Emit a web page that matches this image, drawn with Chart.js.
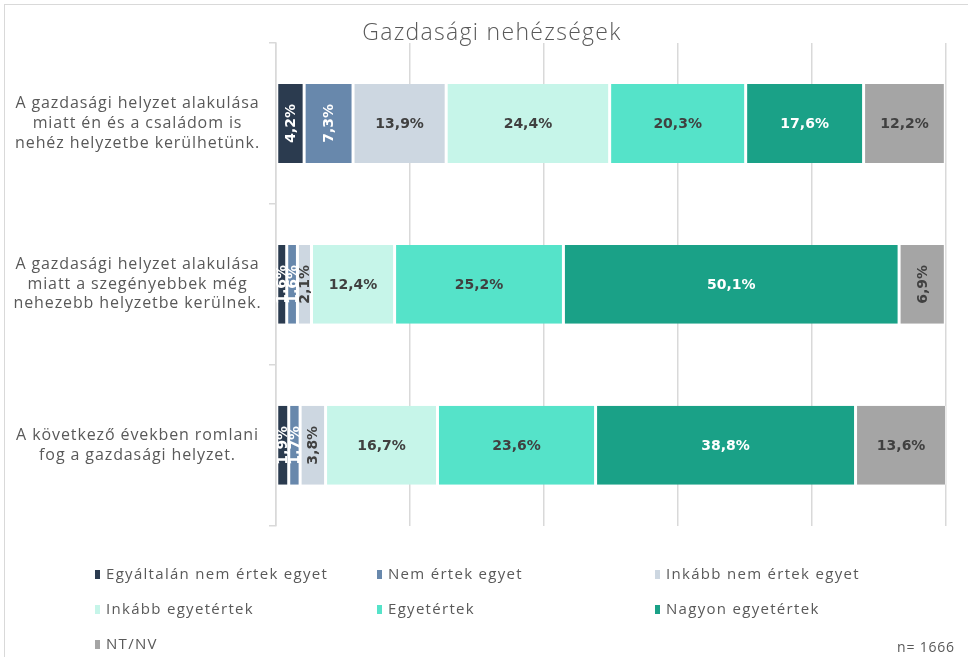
<!DOCTYPE html>
<html><head><meta charset="utf-8">
<script src="https://cdn.jsdelivr.net/npm/chart.js@4"></script>
<style>
html,body{margin:0;padding:0;background:#fff;width:968px;height:657px;overflow:hidden;font-family:"Open Sans",sans-serif;}
#frame{position:absolute;left:4px;top:4px;width:1000px;height:700px;border:1px solid #d9d9d9;box-sizing:border-box;}
#wrap{position:absolute;left:0;top:0;width:968px;height:575px;}
#title{position:absolute;left:292px;width:400px;top:15px;text-align:center;font-size:23px;font-weight:300;letter-spacing:1.3px;color:#595959;line-height:32px;}
#legend{position:absolute;left:0;top:0;width:968px;height:657px;pointer-events:none;}
.li{position:absolute;font-size:15px;color:#595959;white-space:nowrap;line-height:20px;letter-spacing:1.3px;}
.li span.m{display:inline-block;width:5px;height:9px;margin-right:6px;vertical-align:0px;}
#n{position:absolute;left:897px;top:637px;font-size:14px;color:#595959;letter-spacing:0.8px;}
</style></head>
<body>
<div id="frame"></div>
<div id="wrap"><canvas id="c" width="968" height="575"></canvas></div>
<div id="title">Gazdasági nehézségek</div>
<div id="legend"></div>
<div id="n">n= 1666</div>
<script>
const categories = [
  ["A gazdasági helyzet alakulása","miatt én és a családom is","nehéz helyzetbe kerülhetünk."],
  ["A gazdasági helyzet alakulása","miatt a szegényebbek még","nehezebb helyzetbe kerülnek."],
  ["A következő években romlani","fog a gazdasági helyzet."]
];
const seriesNames = ["Egyáltalán nem értek egyet","Nem értek egyet","Inkább nem értek egyet","Inkább egyetértek","Egyetértek","Nagyon egyetértek","NT/NV"];
const egyaltalanNem = [4.2, 1.6, 1.9];
const nemErtek = [7.3, 1.6, 1.7];
const inkabbNem = [13.9, 2.1, 3.8];
const inkabbEgyet = [24.4, 12.4, 16.7];
const egyetert = [20.3, 25.2, 23.6];
const nagyonEgyet = [17.6, 50.1, 38.8];
const ntnv = [12.2, 6.9, 13.6];
const xTicks = [0, 20, 40, 60, 80, 100];

const seriesValues = [egyaltalanNem, nemErtek, inkabbNem, inkabbEgyet, egyetert, nagyonEgyet, ntnv];
const colors = ["#2B3B4F","#6888AC","#CDD7E1","#C6F5E9","#55E3C9","#1AA187","#A5A5A5"];
const labelColors = ["#ffffff","#ffffff","#404040","#404040","#404040","#ffffff","#404040"];

const spacingPlugin = {
  id:'tickSpacing',
  beforeDraw(chart){ chart.ctx.letterSpacing = '0.9px'; },
  beforeDatasetsDraw(chart){ chart.ctx.letterSpacing = '0px'; }
};

const labelPlugin = {
  id:'segLabels',
  afterDatasetsDraw(chart){
    const ctx = chart.ctx;
    chart.data.datasets.forEach((ds, di) => {
      const meta = chart.getDatasetMeta(di);
      meta.data.forEach((el, i) => {
        const v = ds.data[i];
        const txt = v.toFixed(1).replace('.', ',') + '%';
        const cx = (el.x + el.base) / 2;
        const cy = el.y;
        ctx.save();
        ctx.letterSpacing = '0px';
        ctx.font = 'bold 14px "DejaVu Sans", sans-serif';
        ctx.fillStyle = labelColors[di];
        ctx.textAlign = 'center';
        ctx.textBaseline = 'middle';
        ctx.translate(cx, cy);
        if (v < 10) ctx.rotate(-Math.PI/2);
        ctx.fillText(txt, 0, 1);
        ctx.restore();
      });
    });
  }
};

const chart = new Chart(document.getElementById('c'), {
  type:'bar',
  data:{
    labels: categories,
    datasets: seriesNames.map((n, i) => ({
      label:n, data: seriesValues[i], backgroundColor: colors[i],
      borderColor:'#ffffff', borderWidth:{left:1.5,right:1.5,top:0,bottom:0}, borderSkipped:false,
      barPercentage:0.49, categoryPercentage:1
    }))
  },
  options:{
    indexAxis:'y',
    responsive:false,
    animation:false,
    layout:{padding:{left:8,right:22,top:43,bottom:11}},
    plugins:{
      legend:{display:false},
      tooltip:{enabled:false},
      title:{display:false}
    },
    scales:{
      x:{stacked:true,min:0,max:100,
        afterBuildTicks(s){ s.ticks = xTicks.map(v => ({value:v})); },
        ticks:{display:false},
        grid:{color:'#d9d9d9',lineWidth:1.5,drawTicks:false},
        border:{display:false}},
      y:{stacked:true,
        afterFit(s){ s.width = 268; },
        ticks:{color:'#595959',font:{size:16,family:'"Open Sans", sans-serif',lineHeight:1.22},crossAlign:'center',padding:20},
        grid:{offset:true,drawOnChartArea:false,tickLength:7,color:'#d9d9d9',lineWidth:1.5},
        border:{display:true,color:'#d9d9d9',width:1.5}}
    }
  },
  plugins:[spacingPlugin, labelPlugin]
});

// HTML legend built from the chart's datasets
const legendPos = [[95,563],[377,563],[655,563],[95,598],[377,598],[655,598],[95,633]];
const lg = document.getElementById('legend');
chart.data.datasets.forEach((ds, i) => {
  const d = document.createElement('div');
  d.className = 'li';
  d.style.left = legendPos[i][0] + 'px';
  d.style.top = legendPos[i][1] + 'px';
  d.innerHTML = '<span class="m" style="background:' + ds.backgroundColor + '"></span>' + ds.label;
  lg.appendChild(d);
});
</script>
</body></html>
